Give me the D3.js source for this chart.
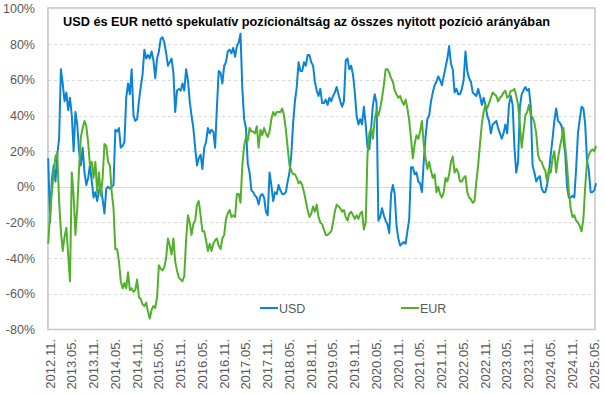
<!DOCTYPE html>
<html>
<head>
<meta charset="utf-8">
<script src="https://cdn.jsdelivr.net/npm/d3@7"></script>
<style>
  body { margin: 0; background: #fff; }
  svg { display: block; font-family: "Liberation Sans", Arial, sans-serif; }
</style>
</head>
<body>
<svg id="chart" width="605" height="394"></svg>
<script>
// x axis labels (every 6 months)
const tickLabels = ["2012.11.", "2013.05.", "2013.11.", "2014.05.", "2014.11.", "2015.05.", "2015.11.",
  "2016.05.", "2016.11.", "2017.05.", "2017.11.", "2018.05.", "2018.11.", "2019.05.", "2019.11.",
  "2020.05.", "2020.11.", "2021.05.", "2021.11.", "2022.05.", "2022.11.", "2023.05.", "2023.11.",
  "2024.05.", "2024.11.", "2025.05."];
const yTicks = [100, 80, 60, 40, 20, 0, -20, -40, -60, -80];

// readings are roughly every half month, first one mid-October 2012
const firstDate = new Date(2012, 9, 17);
const stepDays = 15.22;

// USD net speculative position, % of open interest
const usd = [16, -20, 4, 12, 3, 18, 27, 66, 58, 48, 53,
  43, 50, 40, 20, 42, 35, 20, 12, 22, 8,
  1, 5, 12, 3, -6, -3, -8, -2, 0, -7,
  -15, -1, 0, -1, 0, 1, 32, 31, 33, 22,
  23, 25, 50, 58, 52, 66, 40, 37, 38, 48,
  56, 63, 77, 72, 74, 72, 76, 71, 61, 72,
  76, 83, 84, 81, 75, 68, 70, 72, 64, 42,
  54, 55, 54, 58, 54, 66, 60, 48, 40, 33,
  22, 12, 16, 18, 10, 22, 25, 33, 30, 32,
  31, 22, 45, 65, 64, 58, 68, 70, 76, 77,
  75, 78, 73, 79, 81, 86, 55, 38, 33, 13,
  8, -2, -3, -5, -6, -10, -5, -4, -6, -14,
  -16, 8, 1, -8, -3, -4, 1, -2, -4, -4,
  -3, 3, 8, 18, 36, 48, 56, 70, 65, 65,
  70, 68, 74, 74, 70, 68, 59, 54, 51, 55,
  47, 47, 49, 46, 50, 48, 51, 53, 56, 52,
  48, 45, 48, 71, 72, 66, 68, 63, 53, 40,
  35, 38, 35, 45, 35, 22, 21, 33, 46, 52,
  47, -19, -17, -12, -16, -19, -21, -26, -4, 1,
  -4, -22, -29, -33, -32, -31, -32, -25, -18, 11,
  11, 7, 8, 3, 2, -3, 14, 28, 38, 40, 48,
  53, 57, 59, 62, 60, 57, 62, 67, 72, 79,
  69, 66, 53, 55, 52, 52, 55, 60, 76, 65,
  61, 59, 53, 52, 51, 55, 51, 46, 50, 46,
  40, 37, 30, 35, 36, 37, 33, 30, 27, 30,
  35, 30, 46, 51, 46, 22, 8, 14, 45, 52,
  54, 56, 54, 55, 45, 12, 8, 3, 5, 6,
  -1, -3, -3, 1, 8, 18, 27, 37, 44, 37,
  36, 34, 27, 18, 0, -6, -6, -5, -6, 10,
  30, 38, 45, 44, 35, 15, 9, -3, -3, -2, 2];

// EUR net speculative position, % of open interest
const eur = [-32, -15, -3, 8, 17, 19, -8, -25, -36, -28, -23,
  -38, -53, 8, -5, -27, -12, 10, 28, 33, 37,
  34, 25, 12, 14, 5, 14, -3, 8, -5, 5,
  24, 23, 14, 12, -3, -12, -35, -35, -42, -53,
  -57, -54, -57, -48, -58, -57, -59, -58, -52, -62,
  -63, -66, -67, -65, -70, -74, -69, -67, -68, -62,
  -44, -46, -47, -45, -40, -29, -33, -38, -29, -42,
  -47, -51, -52, -53, -50, -30, -16, -20, -27, -21,
  -19, -10, -8, -16, -25, -25, -30, -36, -32, -36,
  -32, -30, -29, -33, -35, -29, -27, -18, -15, -13,
  -17, -16, -17, -4, -4, -9, 12, 23, 28, 26,
  33, 31, 31, 30, 34, 22, 32, 29, 33, 30,
  28, 31, 38, 42, 40, 42, 42, 42, 44, 40,
  32, 22, 12, 9, 7, 7, 5, 2, 3, 1,
  -3, -8, -13, -17, -15, -11, -14, -10, -17, -20,
  -21, -24, -27, -27, -26, -25, -20, -14, -10, -11,
  -12, -14, -13, -17, -19, -15, -14, -16, -18, -16,
  -18, -15, -14, -24, -20, 18, 30, 33, 27, 38,
  43, 40, 44, 50, 57, 66, 66, 64, 61, 59,
  54, 52, 50, 51, 48, 46, 49, 44, 37, 27,
  16, 24, 29, 27, 31, 37, 24, 16, 10, 14, 9,
  5, 7, -3, 0, -4, -6, -3, 5, 3, 7,
  14, 17, 8, 10, 8, 3, 3, 5, 6, -3,
  -6, -7, -9, -8, 3, 12, 24, 35, 42, 46,
  44, 47, 50, 53, 52, 51, 48, 50, 51, 53,
  54, 50, 51, 54, 54, 55, 51, 46, 35, 22,
  31, 40, 42, 46, 40, 39, 36, 30, 18, 15,
  14, 11, 9, 3, 10, 8, 16, 20, 8, 16,
  22, 27, 33, 22, 12, -3, -12, -17, -16, -19,
  -20, -22, -25, -18, 0, 14, 18, 20, 21, 20, 23];

const seriesNames = ["USD", "EUR"];
const seriesColors = ["#0b84d6", "#52b02a"];

const svg = d3.select("#chart");
const plot = { left: 48, right: 595, top: 8, bottom: 329.5 };

const parseLabel = d3.timeParse("%Y.%m.");
const x = d3.scaleTime()
  .domain([parseLabel(tickLabels[0]), parseLabel(tickLabels[tickLabels.length - 1])])
  .range([50, 594]);
const y = d3.scaleLinear().domain([-80, 100]).range([329.3, 8.7]);

function toPoints(values) {
  return values.map((v, i) => ({
    date: d3.timeHour.offset(firstDate, Math.round(i * stepDays * 24)),
    value: v
  }));
}

// grid lines
svg.append("g").selectAll("line")
  .data(yTicks.filter(d => d !== 100 && d !== -80))
  .enter().append("line")
  .attr("x1", plot.left).attr("x2", plot.right)
  .attr("y1", d => Math.round(y(d)) + 0.5).attr("y2", d => Math.round(y(d)) + 0.5)
  .attr("stroke", "#d9d9d9")
  .attr("stroke-width", 1)
  .attr("stroke-dasharray", d => d === 0 ? null : "3,3");

// plot frame
svg.append("rect")
  .attr("x", plot.left).attr("y", plot.top)
  .attr("width", plot.right - plot.left).attr("height", plot.bottom - plot.top)
  .attr("fill", "none")
  .attr("stroke", "#c8c8c8")
  .attr("stroke-width", 1.6);

// y axis labels
svg.append("g").selectAll("text")
  .data(yTicks)
  .enter().append("text")
  .attr("x", 35)
  .attr("y", d => y(d) + 4.5)
  .attr("text-anchor", "end")
  .attr("font-size", 12.5)
  .attr("fill", "#595959")
  .text(d => d + "%");

// x axis labels, rotated
svg.append("g").selectAll("text")
  .data(tickLabels)
  .enter().append("text")
  .attr("transform", d => `translate(${x(parseLabel(d)) + 4.5},339) rotate(-90)`)
  .attr("text-anchor", "end")
  .attr("font-size", 13)
  .attr("fill", "#595959")
  .text(d => d);

// lines
const line = d3.line()
  .x(d => x(d.date))
  .y(d => y(d.value));

[usd, eur].forEach((vals, k) => {
  svg.append("path")
    .datum(toPoints(vals))
    .attr("d", line)
    .attr("fill", "none")
    .attr("stroke", seriesColors[k])
    .attr("stroke-width", 2)
    .attr("stroke-linejoin", "round");
});

// title
svg.append("text")
  .attr("x", 63).attr("y", 25.5)
  .attr("font-size", 12)
  .attr("font-weight", "bold")
  .attr("fill", "#000")
  .attr("textLength", 487)
  .attr("lengthAdjust", "spacingAndGlyphs")
  .text("USD és EUR nettó spekulatív pozícionáltság az összes nyitott pozíció arányában");

// legend
const legendX = [260, 401];
seriesNames.forEach((name, k) => {
  const g = svg.append("g").attr("transform", `translate(${legendX[k]},308)`);
  g.append("line")
    .attr("x1", 0).attr("x2", 18)
    .attr("stroke", seriesColors[k]).attr("stroke-width", 2);
  g.append("text")
    .attr("x", 19).attr("y", 4.5)
    .attr("font-size", 12.5)
    .attr("fill", "#595959")
    .text(name);
});
</script>
</body>
</html>
